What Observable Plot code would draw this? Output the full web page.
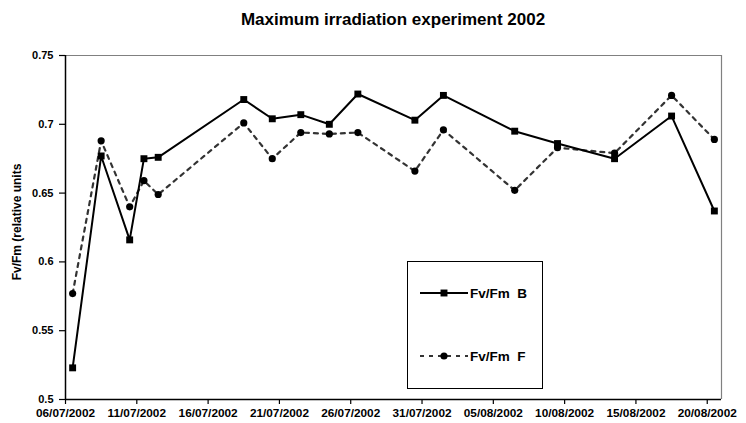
<!DOCTYPE html>
<html>
<head>
<meta charset="utf-8">
<script src="https://cdn.jsdelivr.net/npm/d3@7"></script>
<script src="https://cdn.jsdelivr.net/npm/@observablehq/plot@0.6"></script>
<style>
  body { margin: 0; background: #fff; }
  #wrap { position: relative; width: 746px; height: 423px; font-family: "Liberation Sans", Arial, sans-serif; }
  #title { box-sizing: border-box; height: 40px; padding: 10px 25px 0 65px; text-align: center; font-weight: bold; font-size: 17px; line-height: 20px; color: #000; }
  #ylabel { position: absolute; left: 17px; top: 222px; transform: translate(-50%, -50%) rotate(-90deg); font-weight: bold; font-size: 12px; white-space: nowrap; color: #000; }
  #legend { position: absolute; left: 407px; top: 261px; width: 136px; height: 128px; box-sizing: border-box; border: 1px solid #000; background: #fff; }
  svg { overflow: visible; }
</style>
</head>
<body>
<div id="wrap">
  <div id="title"></div>
  <div id="chart"></div>
  <div id="ylabel"></div>
  <div id="legend"></div>
</div>
<script>
const title = "Maximum irradiation experiment 2002";
const yLabel = "Fv/Fm (relative units";
const dates = ["2002-07-06","2002-07-08","2002-07-10","2002-07-11","2002-07-12","2002-07-18","2002-07-20","2002-07-22","2002-07-24","2002-07-26","2002-07-30","2002-08-01","2002-08-06","2002-08-09","2002-08-13","2002-08-17","2002-08-20"];
const seriesB = [0.523,0.677,0.616,0.675,0.676,0.718,0.704,0.707,0.700,0.722,0.703,0.721,0.695,0.686,0.675,0.706,0.637];
const seriesF = [0.577,0.688,0.640,0.659,0.649,0.701,0.675,0.694,0.693,0.694,0.666,0.696,0.652,0.683,0.679,0.721,0.689];
const seriesNames = ["Fv/Fm  B", "Fv/Fm  F"];
const xTickDates = ["2002-07-06","2002-07-11","2002-07-16","2002-07-21","2002-07-26","2002-07-31","2002-08-05","2002-08-10","2002-08-15","2002-08-20"];
const xDomain = ["2002-07-06","2002-08-21"];
const yTicks = [0.5,0.55,0.6,0.65,0.7,0.75];
const yTickLabels = ["0.5","0.55","0.6","0.65","0.7","0.75"];

document.getElementById("title").textContent = title;
document.getElementById("ylabel").textContent = yLabel;

const day = s => new Date(s + "T00:00:00Z");
const mid = s => new Date(s + "T12:00:00Z");
const dataB = dates.map((d, i) => ({date: mid(d), v: seriesB[i]}));
const dataF = dates.map((d, i) => ({date: mid(d), v: seriesF[i]}));
const x0 = day(xDomain[0]), x1 = day(xDomain[1]);
const fmt = d3.utcFormat("%d/%m/%Y");

const chart = Plot.plot({
  width: 746,
  height: 383,
  marginTop: 15,
  marginBottom: 24,
  marginLeft: 65,
  marginRight: 25,
  style: {fontFamily: "'Liberation Sans', Arial, sans-serif", fontSize: "11px", fontWeight: "bold", color: "#000", background: "transparent"},
  x: {type: "utc", domain: [x0, x1]},
  y: {domain: [0.5, 0.75]},
  marks: [
    Plot.ruleY([0.75], {stroke: "#808080", strokeWidth: 1.2}),
    Plot.ruleX([x1], {stroke: "#808080", strokeWidth: 1.2}),
    Plot.axisX({ticks: xTickDates.map(day), tickFormat: fmt, tickSize: 5, tickPadding: 4, label: null, strokeWidth: 1.2, fontSize: 11.8}),
    Plot.axisY({ticks: yTicks, tickFormat: (d) => yTickLabels[yTicks.indexOf(d)], tickSize: 6, tickPadding: 6, label: null, strokeWidth: 1.2, fontSize: 11}),
    Plot.ruleY([0.5], {stroke: "#000", strokeWidth: 1.5}),
    Plot.ruleX([x0], {stroke: "#000", strokeWidth: 1.5}),
    Plot.line(dataF, {x: "date", y: "v", stroke: "#333", strokeWidth: 2.2, strokeDasharray: "4,5", curve: "linear"}),
    Plot.line(dataB, {x: "date", y: "v", stroke: "#000", strokeWidth: 2, curve: "linear"}),
    Plot.dot(dataF, {x: "date", y: "v", fill: "#000", r: 3.6, symbol: "circle"}),
    Plot.dot(dataB, {x: "date", y: "v", fill: "#000", r: 3.9, symbol: "square"})
  ]
});
document.getElementById("chart").appendChild(chart);

// legend
const leg = d3.select("#legend").append("svg").attr("width", 134).attr("height", 126);
const entries = [
  {name: seriesNames[0], y: 31, dash: null, stroke: "#000", sym: d3.symbolSquare, size: 48},
  {name: seriesNames[1], y: 94, dash: "4,5", stroke: "#333", sym: d3.symbolCircle, size: 40}
];
for (const e of entries) {
  const g = leg.append("g").attr("transform", `translate(0,${e.y})`);
  g.append("line").attr("x1", 12).attr("x2", 60).attr("stroke", e.stroke).attr("stroke-width", 2.2).attr("stroke-dasharray", e.dash);
  g.append("path").attr("d", d3.symbol(e.sym, e.size)()).attr("transform", "translate(36,0)").attr("fill", "#000");
  g.append("text").attr("x", 62).attr("y", 5).attr("font-size", 13.5).attr("font-weight", "bold").attr("font-family", "'Liberation Sans', Arial, sans-serif").attr("xml:space", "preserve").style("white-space", "pre").text(e.name);
}
</script>
</body>
</html>
